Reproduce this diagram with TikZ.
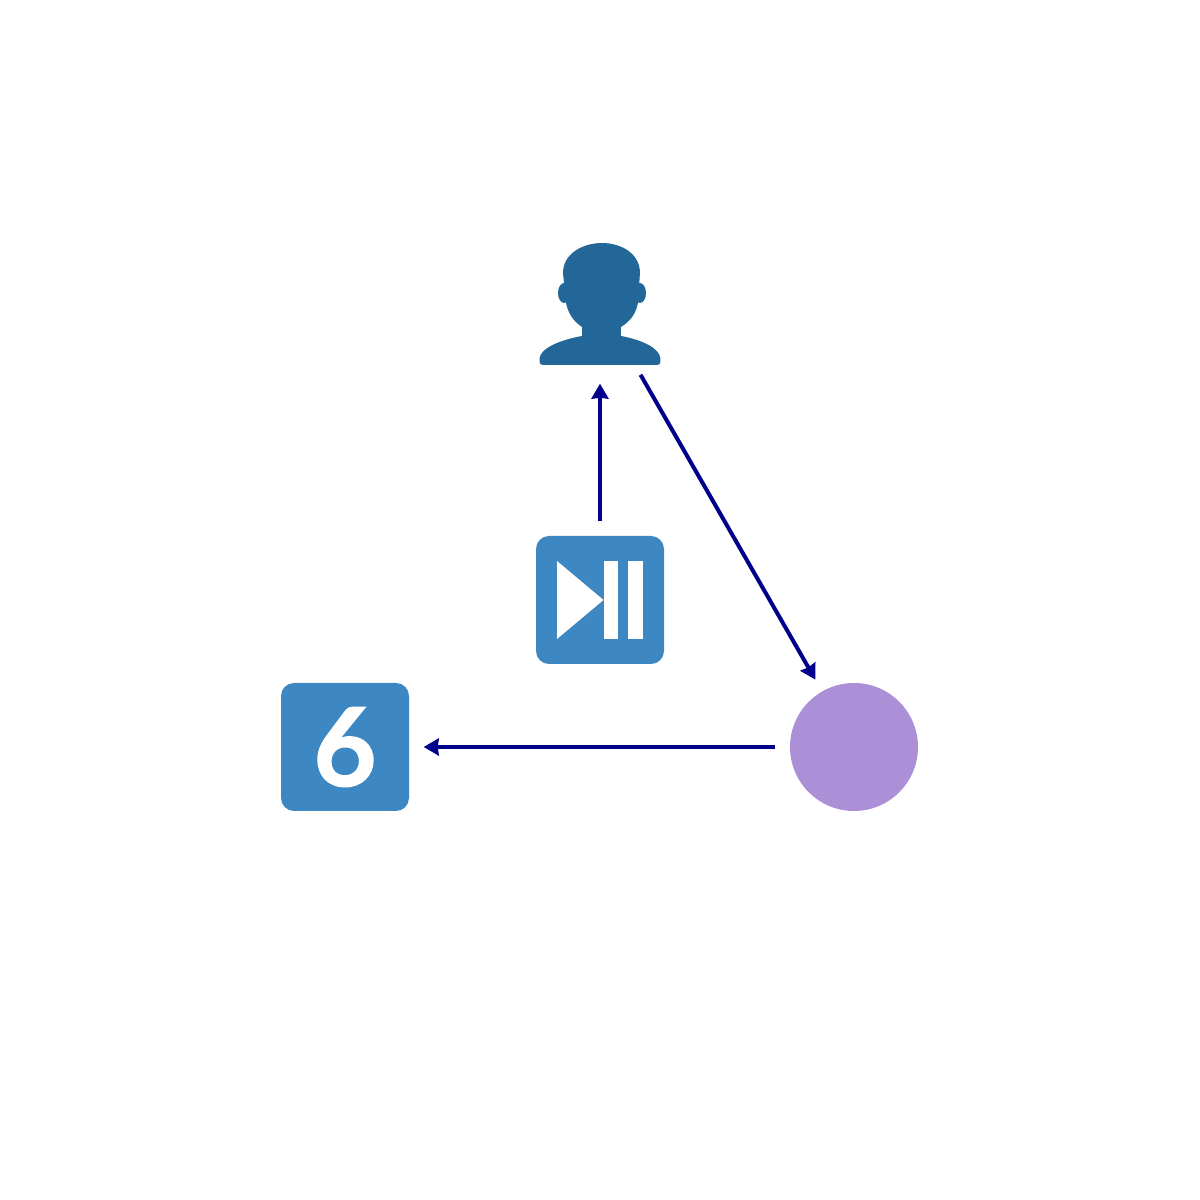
\documentclass[tikz,border=0pt]{standalone}
\usepackage{fontspec}
\usetikzlibrary{arrows.meta}
\newfontfamily\digitfont{Lato}[BoldFeatures={FakeBold=1.2}]
\definecolor{userblue}{HTML}{236698}
\definecolor{boxblue}{HTML}{3D88C3}
\definecolor{roundpurple}{HTML}{AB90D8}
\definecolor{flowblue}{HTML}{00008B}
\tikzset{
	iconbox/.style={fill=boxblue,rounded corners=.13cm,minimum size=1.28cm,inner sep=0pt,text=white},
	iconround/.style={circle,fill=roundpurple,minimum size=1.28cm,inner sep=0pt},
	iconspace/.style={minimum size=1.28cm,inner sep=0pt},
	flowline/.style={draw=flowblue,line width=.04cm,-{Stealth[length=.15cm,width=.17cm,inset=.01cm]}},
	pixels/.style={x=.01cm,y=-.01cm}
}
\begin{document}
\begin{tikzpicture}
	\useasboundingbox (0,0) rectangle (12,12);
	\node[iconspace] (user) at (6,8.96) {};
	\node[iconbox] (play) at (6,6) {};
	\node[iconbox] (six) at (3.45,4.53) {\fontsize{31}{31}\digitfont\bfseries 6};
	\node[iconround] (dot) at (8.54,4.53) {};
	% user
	\begin{scope}[shift={(user.center)},pixels]
		\fill[userblue] (-18,23) .. controls (-27,17) and (-32,9) .. (-34,-1) -- (-36,-21) -- (-37,-31)
			.. controls (-37,-50) and (-18,-61) .. (2,-61) .. controls (22,-61) and (40,-50) .. (40,-31)
			-- (38,-1) .. controls (36,9) and (31,17) .. (21,23) -- (21,32)
			.. controls (42,36) and (60,44) .. (60.5,55) -- (60.5,58) .. controls (60.5,60) and (59,61) .. (57,61)
			-- (-57,61) .. controls (-59,61) and (-60.5,60) .. (-60.5,58) -- (-60.5,54)
			.. controls (-59,44) and (-40,36) .. (-18,32) -- cycle;
		\fill[userblue] (-36,-11) ellipse [x radius=6,y radius=10];
		\fill[userblue] (40,-11) ellipse [x radius=6,y radius=10];
	\end{scope}
	% play and pause
	\begin{scope}[shift={(play.center)},pixels]
		\fill[white] (-43,-39) -- (3.5,0) -- (-43,39) -- cycle;
		\fill[white] (3.5,-39) rectangle (18,39);
		\fill[white] (28.5,-39) rectangle (43,39);
	\end{scope}
	\draw[flowline,shorten <=.14cm,shorten >=.15cm] (play) -- (user);
	\draw[flowline,shorten <=.07cm,shorten >=.13cm] (user) -- (dot);
	\draw[flowline,shorten <=.14cm,shorten >=.14cm] (dot) -- (six);
\end{tikzpicture}
\end{document}
